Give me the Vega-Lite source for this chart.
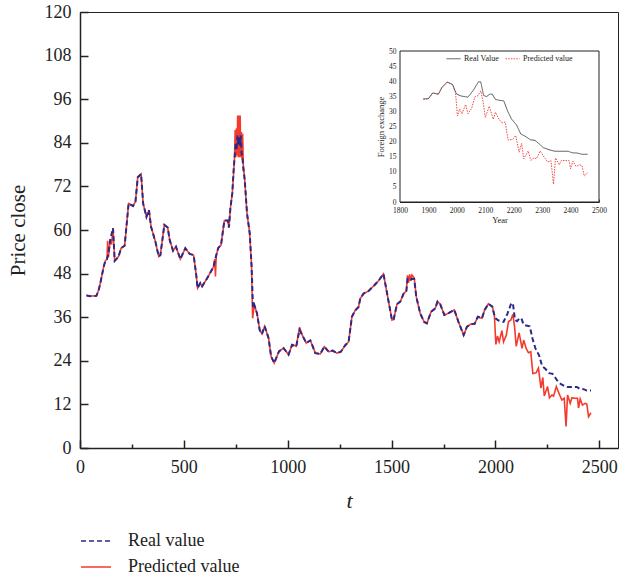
{
  "$schema": "https://vega.github.io/schema/vega-lite/v6.json",
  "width": 538,
  "height": 436,
  "autosize": "none",
  "padding": {"left": 80, "top": 12, "right": 1, "bottom": 132},
  "background": "white",
  "config": {
    "view": {"stroke": "#222", "strokeWidth": 1},
    "axis": {"grid": false, "labelFont": "Liberation Serif", "titleFont": "Liberation Serif", "labelOverlap": false, "labelFlush": false, "domainColor": "#222", "tickColor": "#222", "labelColor": "#222", "titleColor": "#222", "titleFontWeight": "normal"},
    "legend": {"labelFont": "Liberation Serif", "labelColor": "#222", "padding": 0}
  },
  "datasets": {
    "real": [
      {"t":31,"v":42.0},{"t":50,"v":41.8},{"t":79,"v":41.9},{"t":90,"v":43.5},{"t":98,"v":45.4},{"t":114,"v":49.9},{"t":122,"v":51.5},{"t":130,"v":52},{"t":137,"v":53.5},{"t":146,"v":57.5},{"t":159,"v":60.5},{"t":167,"v":51.5},{"t":178,"v":52.2},{"t":186,"v":52.8},{"t":198,"v":55},{"t":215,"v":55.7},{"t":234,"v":67.3},{"t":255,"v":66.6},{"t":267,"v":67.8},{"t":278,"v":74.5},{"t":294,"v":75.4},{"t":304,"v":67.3},{"t":320,"v":63.6},{"t":332,"v":65.5},{"t":342,"v":60.9},{"t":363,"v":56.8},{"t":379,"v":52.7},{"t":387,"v":53.1},{"t":406,"v":61.4},{"t":422,"v":60.7},{"t":432,"v":57.2},{"t":448,"v":54.3},{"t":462,"v":55.4},{"t":483,"v":52},{"t":507,"v":55},{"t":528,"v":53.4},{"t":547,"v":53.1},{"t":560,"v":47.4},{"t":566,"v":44},{"t":579,"v":45.4},{"t":588,"v":44.5},{"t":612,"v":46.7},{"t":643,"v":49.9},{"t":652,"v":52.2},{"t":665,"v":55},{"t":679,"v":55.9},{"t":695,"v":62.6},{"t":711,"v":62.6},{"t":717,"v":60.7},{"t":724,"v":66},{"t":733,"v":70},{"t":740,"v":77},{"t":745,"v":80.5},{"t":750,"v":84},{"t":754,"v":82},{"t":758,"v":86},{"t":762,"v":83.5},{"t":766,"v":85.5},{"t":770,"v":83},{"t":774,"v":86},{"t":778,"v":81},{"t":782,"v":80},{"t":786,"v":77},{"t":793,"v":73.8},{"t":804,"v":64.6},{"t":817,"v":59.1},{"t":826,"v":50},{"t":833,"v":38.5},{"t":839,"v":39.4},{"t":852,"v":37.1},{"t":865,"v":32.5},{"t":876,"v":31.4},{"t":889,"v":33.5},{"t":908,"v":30.2},{"t":920,"v":25.2},{"t":935,"v":23.4},{"t":958,"v":26.6},{"t":980,"v":27.5},{"t":1004,"v":25.7},{"t":1021,"v":28.4},{"t":1041,"v":28},{"t":1057,"v":32.5},{"t":1069,"v":31.2},{"t":1089,"v":28.9},{"t":1109,"v":29.6},{"t":1133,"v":26.1},{"t":1157,"v":25.9},{"t":1176,"v":27.9},{"t":1197,"v":26.5},{"t":1216,"v":26.8},{"t":1237,"v":26.1},{"t":1256,"v":26.5},{"t":1277,"v":28.3},{"t":1293,"v":29.2},{"t":1309,"v":36.1},{"t":1325,"v":37.9},{"t":1341,"v":38.8},{"t":1349,"v":41.1},{"t":1365,"v":42.5},{"t":1389,"v":43.2},{"t":1417,"v":44.8},{"t":1438,"v":46.1},{"t":1461,"v":47.9},{"t":1481,"v":41.7},{"t":1502,"v":35.2},{"t":1510,"v":35.4},{"t":1526,"v":39.6},{"t":1542,"v":40.3},{"t":1558,"v":42.5},{"t":1571,"v":43.2},{"t":1577,"v":46.5},{"t":1587,"v":46.1},{"t":1598,"v":46.6},{"t":1609,"v":46.5},{"t":1619,"v":41.6},{"t":1638,"v":37},{"t":1657,"v":34.7},{"t":1670,"v":34.3},{"t":1690,"v":37.5},{"t":1710,"v":38.4},{"t":1721,"v":40.3},{"t":1734,"v":39.6},{"t":1754,"v":36.6},{"t":1774,"v":37.1},{"t":1802,"v":38},{"t":1822,"v":34.7},{"t":1847,"v":31.1},{"t":1863,"v":33.4},{"t":1882,"v":34.1},{"t":1900,"v":34.2},{"t":1915,"v":36.1},{"t":1935,"v":35.7},{"t":1948,"v":38},{"t":1966,"v":39.7},{"t":1985,"v":38.9},{"t":1995,"v":36.5},{"t":2000,"v":35.7},{"t":2015,"v":35.1},{"t":2039,"v":34.7},{"t":2058,"v":37},{"t":2076,"v":39.8},{"t":2084,"v":39.8},{"t":2094,"v":35.3},{"t":2104,"v":34.9},{"t":2116,"v":35.7},{"t":2125,"v":35.7},{"t":2135,"v":34},{"t":2148,"v":33.7},{"t":2165,"v":33.5},{"t":2179,"v":30},{"t":2192,"v":27.5},{"t":2210,"v":25.5},{"t":2225,"v":22.5},{"t":2240,"v":21.8},{"t":2259,"v":20.6},{"t":2275,"v":20.4},{"t":2290,"v":19.2},{"t":2304,"v":18},{"t":2328,"v":17.2},{"t":2345,"v":16.8},{"t":2392,"v":16.8},{"t":2405,"v":16.3},{"t":2424,"v":16.2},{"t":2440,"v":15.8},{"t":2460,"v":15.8}
    ],
    "pred": [
      {"t":31,"v":42.0},{"t":50,"v":41.8},{"t":79,"v":41.9},{"t":90,"v":43.5},{"t":98,"v":45.4},{"t":114,"v":49.9},{"t":122,"v":51.5},{"t":130,"v":52},{"t":133,"v":57},{"t":137,"v":52.5},{"t":146,"v":57.5},{"t":152,"v":56},{"t":159,"v":60.5},{"t":167,"v":51.5},{"t":178,"v":52.2},{"t":186,"v":52.8},{"t":198,"v":55},{"t":215,"v":55.7},{"t":234,"v":67.3},{"t":255,"v":66.6},{"t":267,"v":67.8},{"t":278,"v":74.5},{"t":294,"v":75.4},{"t":304,"v":67.3},{"t":320,"v":63.6},{"t":332,"v":65.5},{"t":342,"v":60.9},{"t":363,"v":56.8},{"t":379,"v":52.7},{"t":387,"v":53.1},{"t":406,"v":61.4},{"t":422,"v":60.7},{"t":432,"v":57.2},{"t":448,"v":54.3},{"t":462,"v":55.4},{"t":483,"v":52},{"t":507,"v":55},{"t":528,"v":53.4},{"t":547,"v":53.1},{"t":560,"v":47.4},{"t":566,"v":44},{"t":579,"v":45.4},{"t":588,"v":44.5},{"t":612,"v":46.7},{"t":643,"v":49.9},{"t":649,"v":52},{"t":652,"v":47.2},{"t":656,"v":53},{"t":665,"v":55},{"t":679,"v":55.9},{"t":695,"v":62.6},{"t":711,"v":62.6},{"t":717,"v":60.7},{"t":724,"v":66},{"t":733,"v":70},{"t":740,"v":76},{"t":744,"v":80},{"t":747,"v":87.5},{"t":750,"v":80},{"t":753,"v":88},{"t":756,"v":80.5},{"t":759,"v":91.5},{"t":762,"v":80},{"t":765,"v":91.5},{"t":768,"v":80},{"t":771,"v":91.5},{"t":774,"v":80},{"t":777,"v":87},{"t":780,"v":79.5},{"t":783,"v":86.5},{"t":786,"v":78},{"t":793,"v":73.8},{"t":804,"v":64.6},{"t":817,"v":59.1},{"t":826,"v":50},{"t":831,"v":35.7},{"t":839,"v":39.4},{"t":852,"v":37.1},{"t":865,"v":32.5},{"t":876,"v":31.4},{"t":889,"v":33.5},{"t":908,"v":30.2},{"t":920,"v":25.2},{"t":935,"v":23.4},{"t":958,"v":26.6},{"t":980,"v":27.5},{"t":1004,"v":25.7},{"t":1021,"v":28.4},{"t":1041,"v":28},{"t":1057,"v":33.2},{"t":1069,"v":31.2},{"t":1089,"v":28.9},{"t":1109,"v":29.6},{"t":1133,"v":26.1},{"t":1157,"v":25.9},{"t":1176,"v":27.9},{"t":1197,"v":26.5},{"t":1216,"v":26.8},{"t":1237,"v":26.1},{"t":1256,"v":26.5},{"t":1277,"v":28.3},{"t":1293,"v":29.2},{"t":1309,"v":36.1},{"t":1325,"v":37.9},{"t":1341,"v":38.8},{"t":1349,"v":41.1},{"t":1365,"v":42.5},{"t":1389,"v":43.2},{"t":1417,"v":44.8},{"t":1438,"v":46.1},{"t":1461,"v":47.9},{"t":1481,"v":41.7},{"t":1502,"v":35.2},{"t":1510,"v":35.4},{"t":1526,"v":39.6},{"t":1542,"v":40.3},{"t":1558,"v":42.5},{"t":1571,"v":43.2},{"t":1577,"v":47.5},{"t":1582,"v":45.5},{"t":1587,"v":47.8},{"t":1592,"v":46},{"t":1598,"v":47.6},{"t":1609,"v":46.8},{"t":1619,"v":41.6},{"t":1638,"v":37},{"t":1657,"v":34.7},{"t":1670,"v":34.3},{"t":1690,"v":37.5},{"t":1710,"v":38.4},{"t":1721,"v":40.3},{"t":1734,"v":39.6},{"t":1754,"v":36.6},{"t":1774,"v":37.1},{"t":1802,"v":38},{"t":1822,"v":34.7},{"t":1847,"v":31.1},{"t":1863,"v":33.4},{"t":1882,"v":34.1},{"t":1900,"v":34.2},{"t":1915,"v":36.1},{"t":1935,"v":35.7},{"t":1948,"v":38},{"t":1966,"v":39.7},{"t":1985,"v":38.9},{"t":1995,"v":36.5},{"t":2002,"v":28.5},{"t":2010,"v":30.8},{"t":2018,"v":29.2},{"t":2031,"v":32.3},{"t":2039,"v":29.2},{"t":2052,"v":31},{"t":2063,"v":34.8},{"t":2074,"v":35.2},{"t":2084,"v":36.8},{"t":2092,"v":33.4},{"t":2100,"v":28},{"t":2114,"v":31.7},{"t":2128,"v":27.4},{"t":2136,"v":29.7},{"t":2148,"v":27.4},{"t":2159,"v":26.2},{"t":2170,"v":26.5},{"t":2180,"v":20.5},{"t":2196,"v":20.7},{"t":2207,"v":22},{"t":2219,"v":16.5},{"t":2228,"v":19.4},{"t":2235,"v":14.3},{"t":2251,"v":16.9},{"t":2260,"v":13.8},{"t":2272,"v":14.6},{"t":2280,"v":14.3},{"t":2293,"v":16.9},{"t":2309,"v":14.6},{"t":2320,"v":13.2},{"t":2331,"v":13.7},{"t":2340,"v":5.9},{"t":2347,"v":14.6},{"t":2360,"v":12.3},{"t":2368,"v":13.8},{"t":2384,"v":13.7},{"t":2395,"v":13.7},{"t":2400,"v":11},{"t":2408,"v":13.5},{"t":2419,"v":11.8},{"t":2432,"v":12.3},{"t":2440,"v":12.1},{"t":2448,"v":8.6},{"t":2460,"v":9.7}
    ]
  },
  "layer": [
    {
      "layer": [
        {
          "data": {"name": "pred"},
          "mark": {"type": "line", "strokeWidth": 1.6},
          "encoding": {
            "x": {"field": "t", "type": "quantitative", "scale": {"domain": [0, 2590], "nice": false, "zero": false},
              "axis": {"orient": "bottom", "title": "t", "titleFontStyle": "italic", "titleFontSize": 22, "titlePadding": 10,
                "values": [0,250,500,750,1000,1250,1500,1750,2000,2250,2500],
                "labelExpr": "datum.value % 500 === 0 ? datum.label : ''", "format": "d",
                "labelFontSize": 18, "labelPadding": 18, "domainWidth": 1.5, "tickWidth": 1.5,
                "tickSize": {"condition": {"test": "datum.value % 500 !== 0", "value": -4}, "value": -8}}},
            "y": {"field": "v", "type": "quantitative", "scale": {"domain": [0, 120], "nice": false},
              "axis": {"orient": "left", "title": "Price close", "titleFontSize": 21, "titlePadding": 16,
                "values": [0,6,12,18,24,30,36,42,48,54,60,66,72,78,84,90,96,102,108,114,120],
                "labelExpr": "datum.value % 12 === 0 ? datum.label : ''",
                "labelFontSize": 18, "labelPadding": 17, "domainWidth": 1.5, "tickWidth": 1.5,
                "tickSize": {"condition": {"test": "datum.value % 12 !== 0", "value": -4}, "value": -8}}},
            "color": {"datum": "Predicted value", "type": "nominal",
              "scale": {"domain": ["Real value", "Predicted value"], "range": ["#2a2a8c", "#f23b2c"]},
              "legend": {"orient": "none", "legendX": 0, "legendY": 513, "title": null, "symbolType": "stroke", "symbolSize": 900, "symbolStrokeWidth": 1.6, "labelFontSize": 18, "labelOffset": 16, "rowPadding": 1}},
            "strokeDash": {"datum": "Predicted value", "type": "nominal",
              "scale": {"domain": ["Real value", "Predicted value"], "range": [[5, 3], [1, 0]]},
              "legend": {"orient": "none", "legendX": 0, "legendY": 513, "title": null, "symbolType": "stroke", "symbolSize": 900, "symbolStrokeWidth": 1.6, "labelFontSize": 18, "labelOffset": 16, "rowPadding": 1}}
          }
        },
        {
          "data": {"name": "real"},
          "mark": {"type": "line", "strokeWidth": 2},
          "encoding": {
            "x": {"field": "t", "type": "quantitative"},
            "y": {"field": "v", "type": "quantitative"},
            "color": {"datum": "Real value", "type": "nominal"},
            "strokeDash": {"datum": "Real value", "type": "nominal"}
          }
        }
      ]
    },
    {
      "layer": [
        {
          "data": {"values": [{}]},
          "mark": {"type": "rect", "fill": "white", "stroke": "#222", "strokeWidth": 1},
          "encoding": {
            "x": {"datum": 1800, "type": "quantitative", "scale": {"domain": [1800, 2500], "range": [320, 519], "nice": false, "zero": false},
              "axis": {"orient": "bottom", "offset": -246, "title": "Year", "titleFontSize": 8.5, "titlePadding": 2,
                "values": [1800,1850,1900,1950,2000,2050,2100,2150,2200,2250,2300,2350,2400,2450,2500],
                "labelExpr": "datum.value % 100 === 0 ? datum.label : ''", "format": "d",
                "labelFontSize": 7.5, "labelPadding": 7, "domainWidth": 1, "tickWidth": 0.8,
                "tickSize": {"condition": {"test": "datum.value % 100 !== 0", "value": -1.5}, "value": -3}}},
            "x2": {"datum": 2500},
            "y": {"datum": 0, "type": "quantitative", "scale": {"domain": [0, 50], "range": [190, 39], "nice": false},
              "axis": {"orient": "left", "offset": -320, "title": "Foreign exchange", "titleFontSize": 8.5, "titlePadding": 3,
                "values": [0,2.5,5,7.5,10,12.5,15,17.5,20,22.5,25,27.5,30,32.5,35,37.5,40,42.5,45,47.5,50],
                "labelExpr": "datum.value % 5 === 0 ? datum.label : ''",
                "labelFontSize": 7.5, "labelPadding": 7, "domainWidth": 1, "tickWidth": 0.8,
                "tickSize": {"condition": {"test": "datum.value % 5 !== 0", "value": -1.5}, "value": -3}}},
            "y2": {"datum": 50}
          }
        },
        {
          "data": {"name": "pred"},
          "transform": [{"filter": "datum.t >= 1880"}],
          "mark": {"type": "line", "strokeWidth": 1},
          "encoding": {
            "x": {"field": "t", "type": "quantitative"},
            "y": {"field": "v", "type": "quantitative"},
            "color": {"datum": "Predicted value", "type": "nominal",
              "scale": {"domain": ["Real Value", "Predicted value"], "range": ["#555555", "#f04848"]},
              "legend": {"orient": "none", "legendX": 366, "legendY": 39, "direction": "horizontal", "title": null, "symbolType": "stroke", "symbolSize": 196, "symbolStrokeWidth": 1, "labelFontSize": 8, "labelOffset": 3, "columnPadding": 4}},
            "strokeDash": {"datum": "Predicted value", "type": "nominal",
              "scale": {"domain": ["Real Value", "Predicted value"], "range": [[1, 0], [1.5, 1.2]]},
              "legend": {"orient": "none", "legendX": 366, "legendY": 39, "direction": "horizontal", "title": null, "symbolType": "stroke", "symbolSize": 196, "symbolStrokeWidth": 1, "labelFontSize": 8, "labelOffset": 3, "columnPadding": 4}}
          }
        },
        {
          "data": {"name": "real"},
          "transform": [{"filter": "datum.t >= 1880"}],
          "mark": {"type": "line", "strokeWidth": 1},
          "encoding": {
            "x": {"field": "t", "type": "quantitative"},
            "y": {"field": "v", "type": "quantitative"},
            "color": {"datum": "Real Value", "type": "nominal"},
            "strokeDash": {"datum": "Real Value", "type": "nominal"}
          }
        }
      ]
    }
  ],
  "resolve": {"scale": {"x": "independent", "y": "independent", "color": "independent", "strokeDash": "independent"}}
}
